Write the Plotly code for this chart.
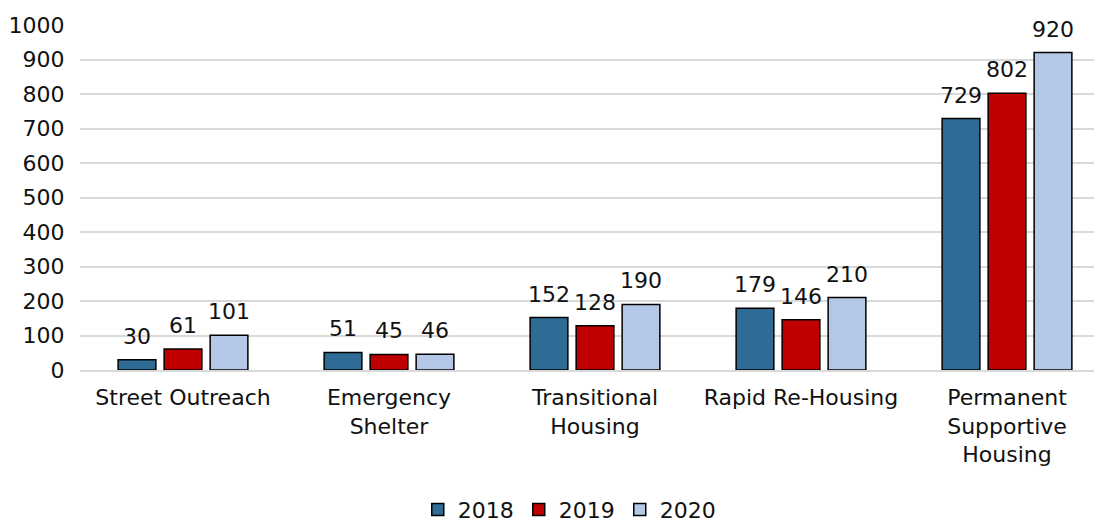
import plotly.graph_objects as go

# Data
categories = ["Street Outreach", "Emergency<br>Shelter", "Transitional<br>Housing",
              "Rapid Re-Housing", "Permanent<br>Supportive<br>Housing"]
years = ["2018", "2019", "2020"]
values_2018 = [30, 51, 152, 179, 729]
values_2019 = [61, 45, 128, 146, 802]
values_2020 = [101, 46, 190, 210, 920]
colors = ["#2E6C96", "#C00000", "#B4C7E7"]

font_family = "'DejaVu Sans', sans-serif"
fig_w, fig_h = 1102, 515
m_l, m_r = 72, 0
bargap = 0.33

series = [values_2018, values_2019, values_2020]

fig = go.Figure()
for year, vals, col in zip(years, series, colors):
    fig.add_trace(go.Bar(
        x=categories,
        y=vals,
        name=year,
        marker=dict(color=col, line=dict(color="black", width=1.5)),
    ))

# value labels sit a little higher above the bars than plotly's default
slot_px = (fig_w - m_l - m_r) / len(categories) * (1 - bargap) / len(years)
for i, vals in enumerate(series):
    for cat, v in zip(categories, vals):
        fig.add_annotation(x=cat, y=v, text=str(v), showarrow=False,
                           xanchor="center", yanchor="bottom",
                           xshift=(i - 1) * slot_px, yshift=9,
                           font=dict(size=22, color="#111111"))

fig.update_layout(
    width=fig_w,
    height=fig_h,
    barmode="group",
    bargap=bargap,
    bargroupgap=0.18,
    plot_bgcolor="white",
    paper_bgcolor="white",
    font=dict(family=font_family, size=22, color="#111111"),
    margin=dict(l=m_l, r=m_r, t=17, b=153, autoexpand=False),
    showlegend=True,
    legend=dict(orientation="h", x=0.475, xanchor="center", y=-0.405, yanchor="middle",
                font=dict(size=22), traceorder="normal",
                itemwidth=30, tracegroupgap=0),
    xaxis=dict(showgrid=False, showline=True, linecolor="#D9D9D9", linewidth=1.5,
               ticks="outside", ticklen=7, tickcolor="rgba(0,0,0,0)",
               tickfont=dict(size=22)),
    yaxis=dict(range=[0, 1000], dtick=100, showgrid=True, gridcolor="#D9D9D9",
               gridwidth=1.5, zeroline=False, ticks="outside", ticklen=10,
               tickcolor="rgba(0,0,0,0)", tickfont=dict(size=22)),
)

fig.write_html("out.html")
